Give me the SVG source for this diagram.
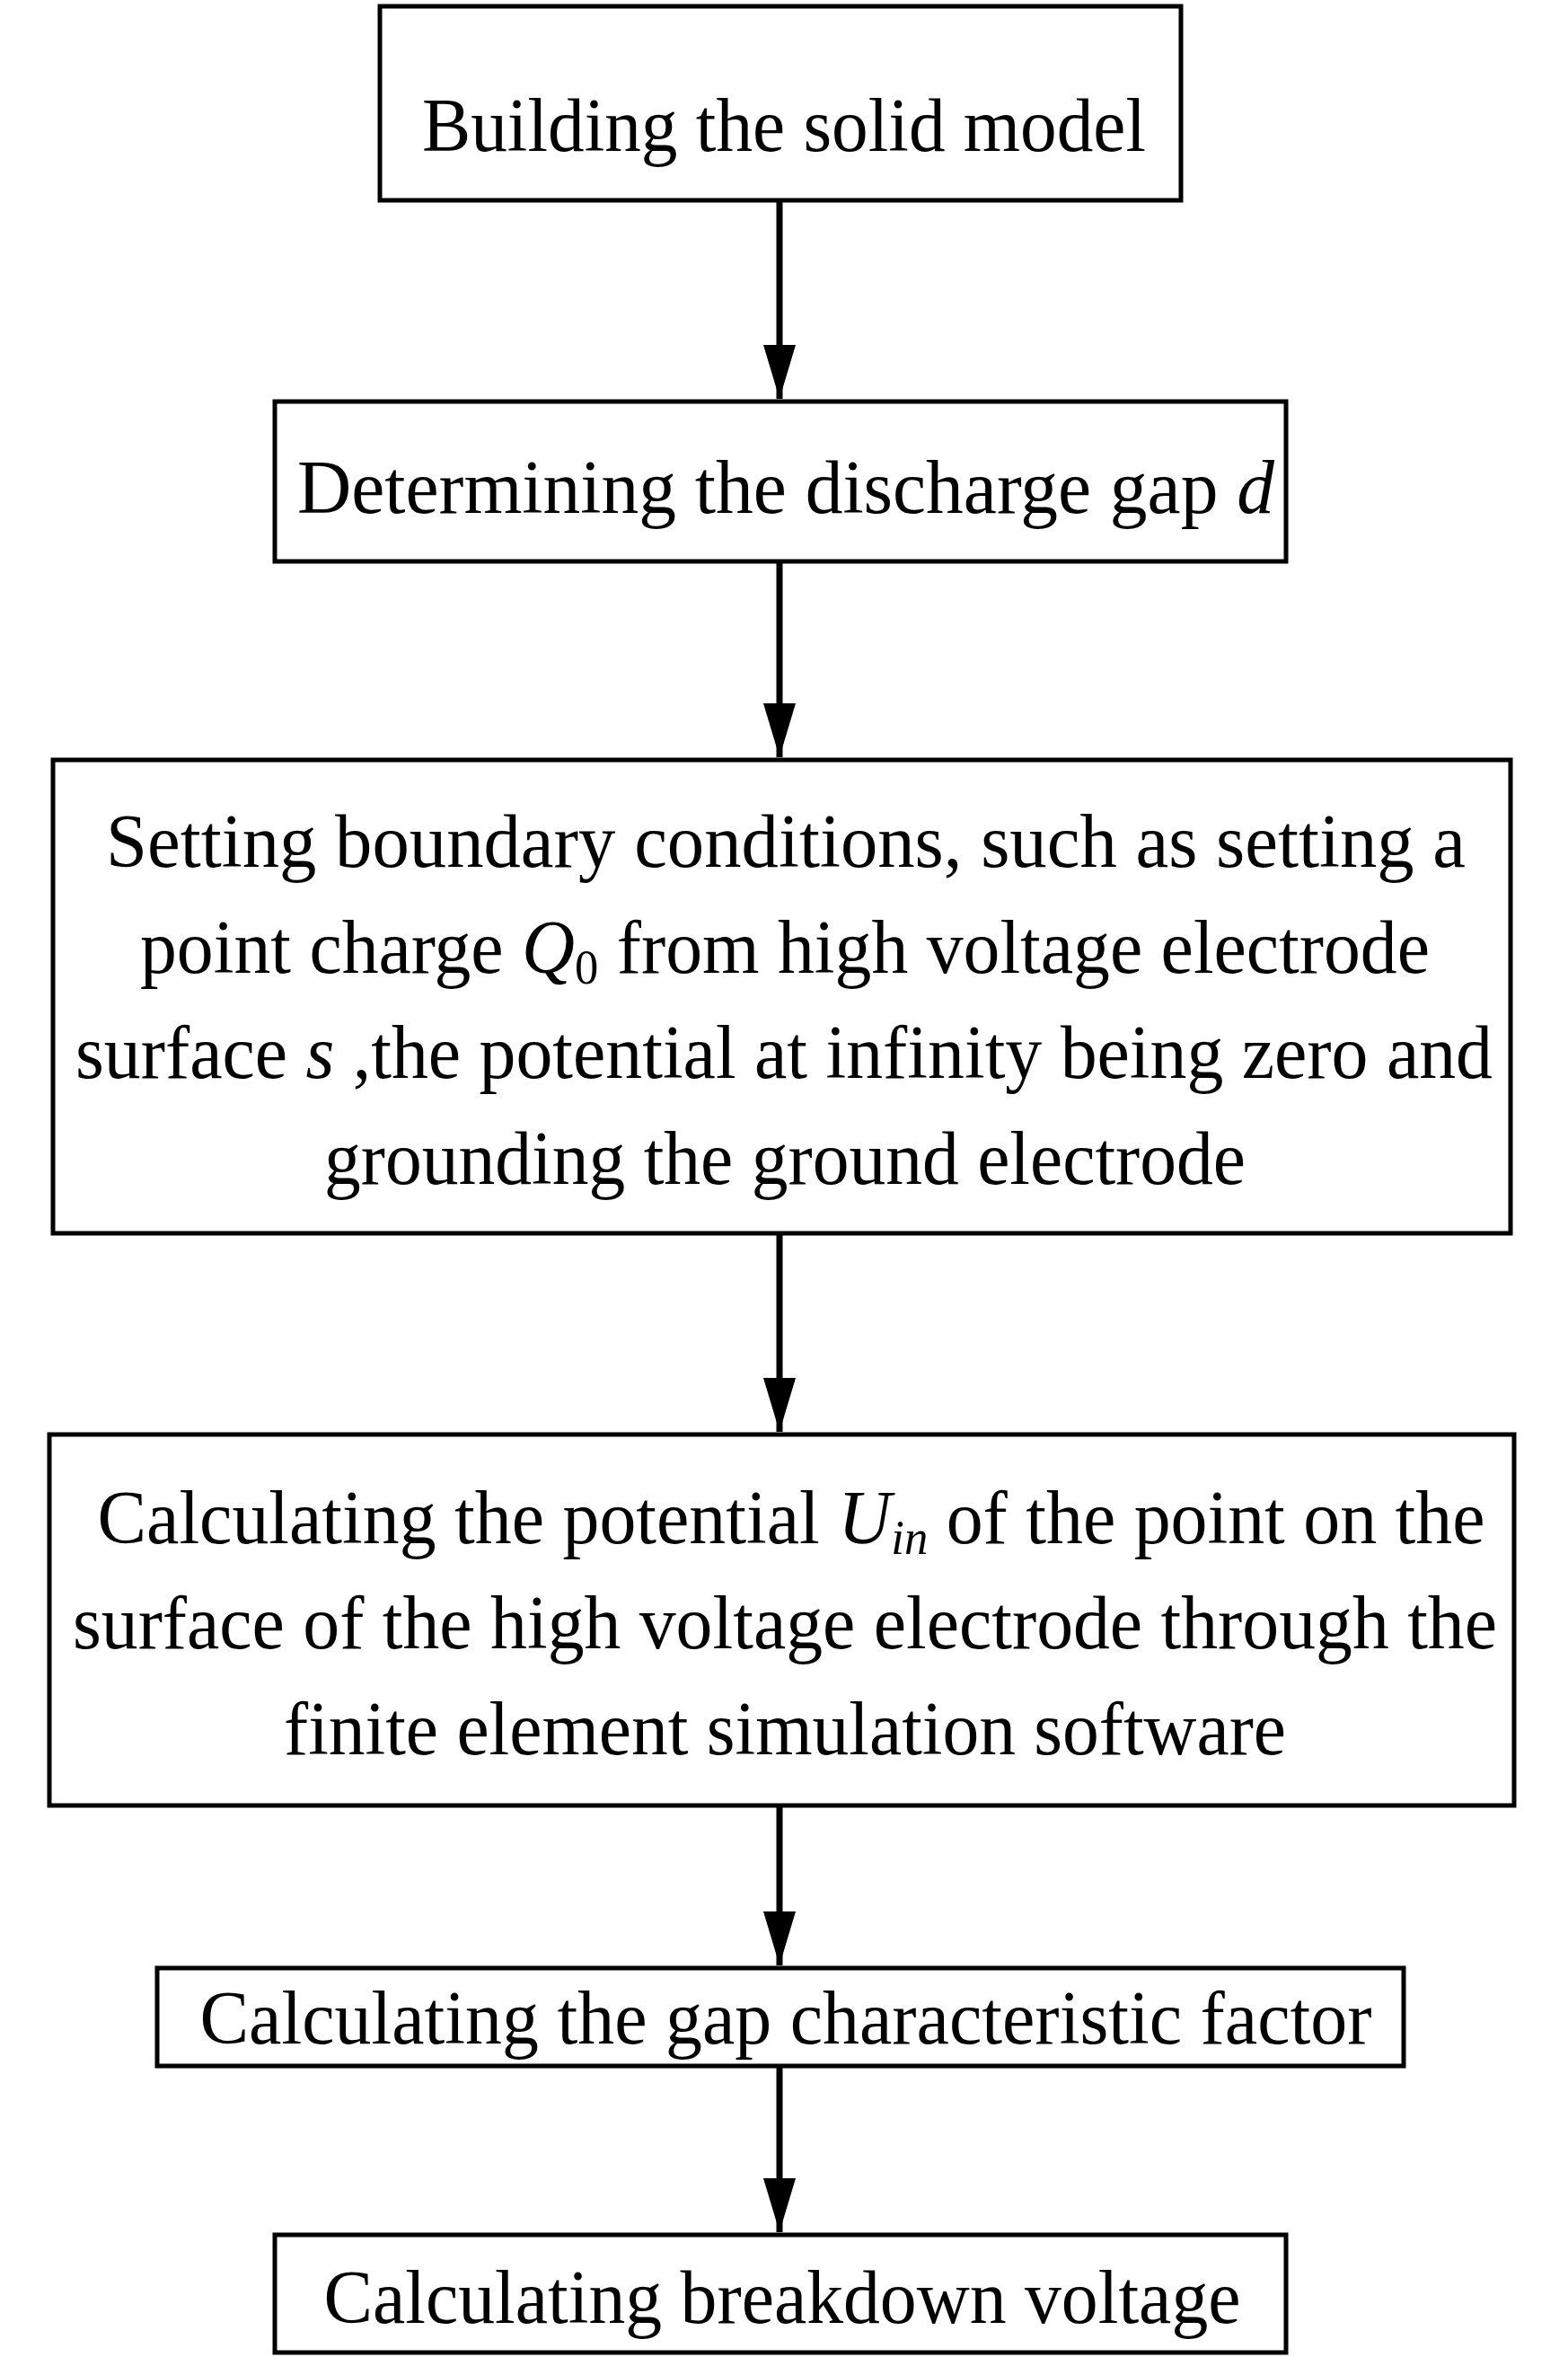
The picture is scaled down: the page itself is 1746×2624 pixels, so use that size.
<svg xmlns="http://www.w3.org/2000/svg" width="1746" height="2624" viewBox="0 0 1746 2624">
<style>
rect{fill:#fff;stroke:#000;stroke-width:5}
text{font-family:"Liberation Serif","Times New Roman",serif;font-size:84px;fill:#000;text-anchor:middle}
.i{font-style:italic}
.s{font-size:54px}
line{stroke:#000;stroke-width:7}
</style>
<defs><marker id="a" markerWidth="60" markerHeight="36" refX="60" refY="18" orient="auto" markerUnits="userSpaceOnUse" viewBox="0 0 60 36"><path d="M0,0 L60,18 L0,36Z" fill="#000"/></marker></defs>
<rect width="1746" height="2624" style="stroke:none"/>
<g id="connectors">
<line x1="868" y1="223" x2="868" y2="444" marker-end="url(#a)"/>
<line x1="868" y1="625" x2="868" y2="843" marker-end="url(#a)"/>
<line x1="868" y1="1373" x2="868" y2="1594" marker-end="url(#a)"/>
<line x1="868" y1="2010" x2="868" y2="2188" marker-end="url(#a)"/>
<line x1="868" y1="2300" x2="868" y2="2485" marker-end="url(#a)"/>
</g>
<g id="n1"><rect x="423" y="7" width="892" height="216"/>
<text x="873" y="168" textLength="806" lengthAdjust="spacingAndGlyphs">Building the solid model</text></g>
<g id="n2"><rect x="306" y="447" width="1126" height="178"/>
<text x="875" y="571" textLength="1088" lengthAdjust="spacingAndGlyphs">Determining the  discharge gap <tspan class="i">d</tspan></text></g>
<g id="n3"><rect x="59" y="846" width="1623" height="527"/>
<text x="875" y="965" textLength="1514" lengthAdjust="spacingAndGlyphs">Setting  boundary conditions, such as setting a</text>
<text x="874" y="1083" textLength="1436" lengthAdjust="spacingAndGlyphs">point charge <tspan class="i">Q</tspan><tspan class="s" dy="12">0</tspan><tspan dy="-12"> from high voltage electrode</tspan></text>
<text x="873" y="1200" textLength="1578" lengthAdjust="spacingAndGlyphs">surface <tspan class="i">s</tspan> ,the potential at infinity being zero and</text>
<text x="874" y="1318" textLength="1026" lengthAdjust="spacingAndGlyphs">grounding the ground electrode</text></g>
<g id="n4"><rect x="55" y="1597" width="1631" height="413"/>
<text x="881" y="1718" textLength="1545" lengthAdjust="spacingAndGlyphs">Calculating the potential <tspan class="i">U</tspan><tspan class="i s" dy="12">in</tspan><tspan dy="-12"> of the point on the</tspan></text>
<text x="874" y="1835" textLength="1586" lengthAdjust="spacingAndGlyphs">surface of the high voltage electrode through the</text>
<text x="874" y="1953" textLength="1116" lengthAdjust="spacingAndGlyphs">finite element simulation software</text></g>
<g id="n5"><rect x="175" y="2191" width="1388" height="109"/>
<text x="875" y="2275" textLength="1305" lengthAdjust="spacingAndGlyphs">Calculating the gap characteristic factor</text></g>
<g id="n6"><rect x="306" y="2488" width="1126" height="131"/>
<text x="871" y="2586" textLength="1021" lengthAdjust="spacingAndGlyphs">Calculating breakdown voltage</text></g>
</svg>
